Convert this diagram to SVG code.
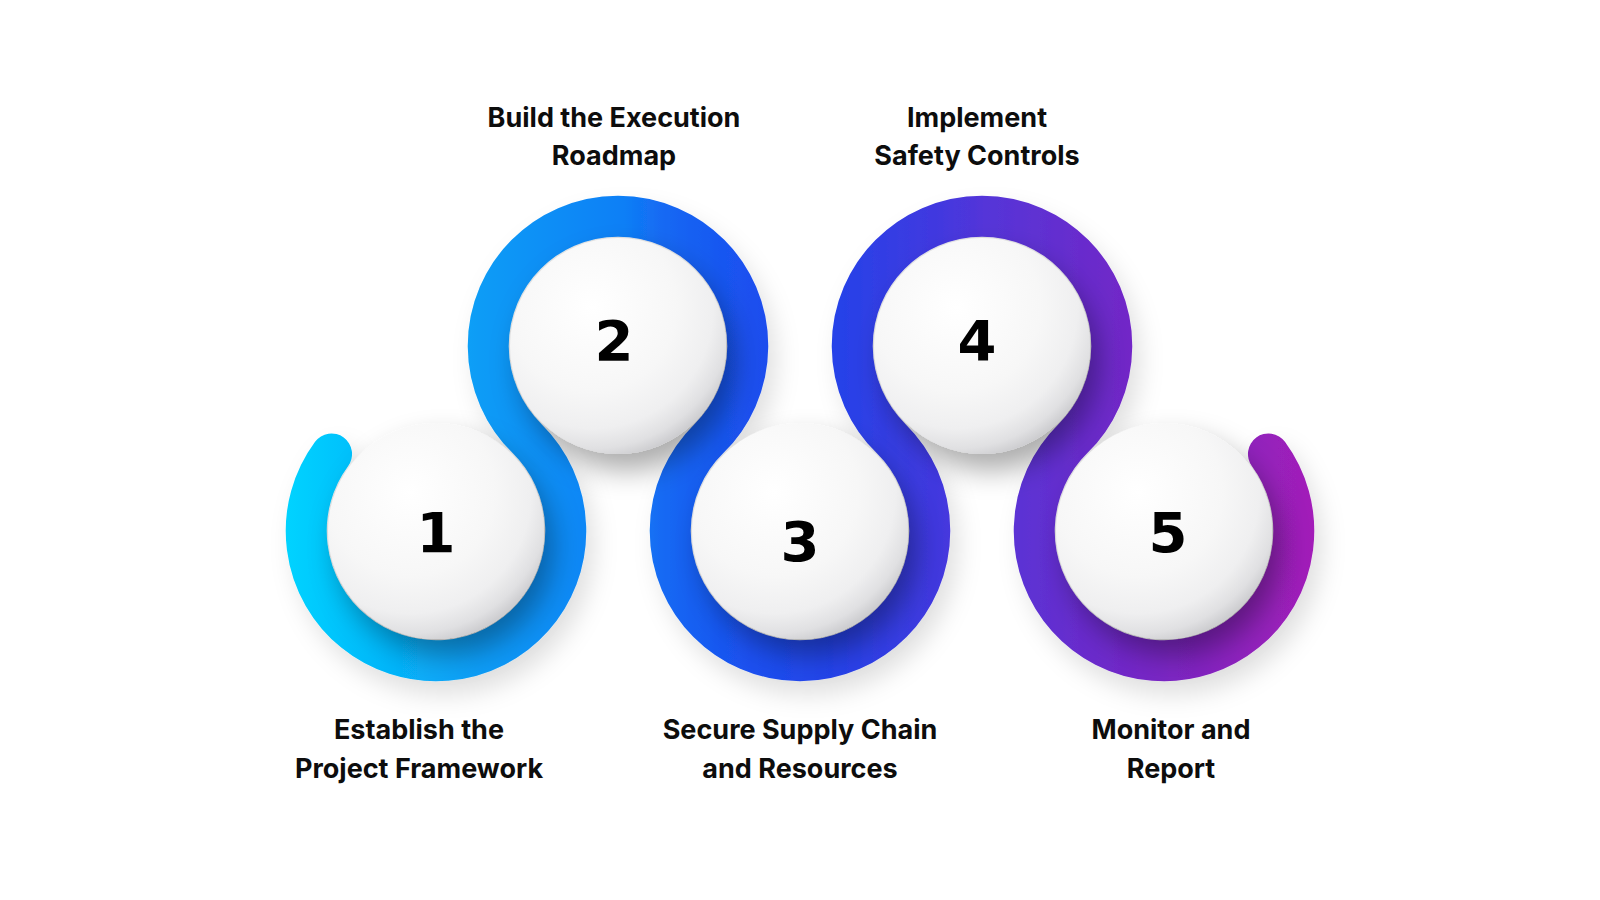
<svg xmlns="http://www.w3.org/2000/svg" width="1600" height="900" viewBox="0 0 1600 900">
  <defs>
    <linearGradient id="ringGrad" gradientUnits="userSpaceOnUse" x1="282" y1="0" x2="1318" y2="0">
      <stop offset="0" stop-color="#00d4ff"/>
      <stop offset="0.19" stop-color="#0a9cf6"/>
      <stop offset="0.33" stop-color="#0f7ff6"/>
      <stop offset="0.37" stop-color="#1468f3"/>
      <stop offset="0.44" stop-color="#1a52f0"/>
      <stop offset="0.53" stop-color="#2443e9"/>
      <stop offset="0.635" stop-color="#4238df"/>
      <stop offset="0.68" stop-color="#5535d8"/>
      <stop offset="0.81" stop-color="#7028c8"/>
      <stop offset="0.88" stop-color="#8024c0"/>
      <stop offset="1" stop-color="#a41eb8"/>
    </linearGradient>
    <radialGradient id="ballGrad" cx="0.38" cy="0.32" r="0.78" fx="0.38" fy="0.32">
      <stop offset="0" stop-color="#ffffff"/>
      <stop offset="0.5" stop-color="#f7f7f7"/>
      <stop offset="0.72" stop-color="#efeff0"/>
      <stop offset="0.84" stop-color="#e0e0e2"/>
      <stop offset="0.92" stop-color="#cbcbce"/>
      <stop offset="1" stop-color="#b4b4b8"/>
    </radialGradient>
    <filter id="ballShadow" x="-40%" y="-40%" width="190%" height="190%">
      <feDropShadow dx="9" dy="16" stdDeviation="14" flood-color="#000000" flood-opacity="0.33"/>
    </filter>
    <filter id="ringShadow" x="-10%" y="-20%" width="125%" height="150%">
      <feDropShadow dx="8" dy="14" stdDeviation="12" flood-color="#000000" flood-opacity="0.12"/>
    </filter>
  </defs>
  <style>
    .ball { fill: url(#ballGrad); filter: url(#ballShadow); }
    .num { font-family: "DejaVu Sans", "Liberation Sans", sans-serif; font-weight: 700; font-size: 56px; fill: #000000; text-anchor: middle; }
    .label { font-family: Inter, "Liberation Sans", sans-serif; font-weight: 700; font-size: 27px; fill: #0d0d0d; text-anchor: middle; }
    .ring { fill: none; stroke: url(#ringGrad); stroke-width: 41; stroke-linecap: round; filter: url(#ringShadow); }
  </style>
  <rect x="0" y="0" width="1600" height="900" fill="#ffffff"/>

  <g id="connectors">
    <path class="ring" d="M 331.55 454 A 129.76 129.76 0 1 0 527 438.5 A 129.76 129.76 0 1 1 709 438.5 A 129.76 129.76 0 1 0 891 438.5 A 129.76 129.76 0 1 1 1073 438.5 A 129.76 129.76 0 1 0 1268.45 454"/>
  </g>

  <g id="node1">
    <circle class="ball" cx="436" cy="531" r="108"/>
    <text class="num" x="436" y="552">1</text>
    <text class="label" x="419" y="739">Establish the</text>
    <text class="label" x="419" y="778">Project Framework</text>
  </g>

  <g id="node2">
    <circle class="ball" cx="618" cy="346" r="108"/>
    <text class="num" x="614" y="360">2</text>
    <text class="label" x="614" y="127">Build the Execution</text>
    <text class="label" x="614" y="165">Roadmap</text>
  </g>

  <g id="node3">
    <circle class="ball" cx="800" cy="531" r="108"/>
    <text class="num" x="800" y="561">3</text>
    <text class="label" x="800" y="739">Secure Supply Chain</text>
    <text class="label" x="800" y="778">and Resources</text>
  </g>

  <g id="node4">
    <circle class="ball" cx="982" cy="346" r="108"/>
    <text class="num" x="977" y="360">4</text>
    <text class="label" x="977" y="127">Implement</text>
    <text class="label" x="977" y="165">Safety Controls</text>
  </g>

  <g id="node5">
    <circle class="ball" cx="1164" cy="531" r="108"/>
    <text class="num" x="1168" y="552">5</text>
    <text class="label" x="1171" y="739">Monitor and</text>
    <text class="label" x="1171" y="778">Report</text>
  </g>
</svg>
